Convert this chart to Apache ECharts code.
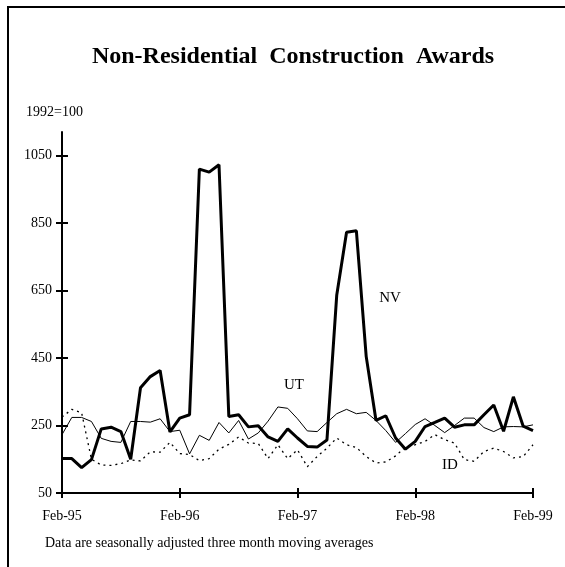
<!DOCTYPE html>
<html><head><meta charset="utf-8">
<script src="https://cdn.jsdelivr.net/npm/echarts@6/dist/echarts.min.js"></script>
<style>html,body{margin:0;padding:0;background:#fff}#c{width:565px;height:567px}</style>
</head><body><div id="c"></div>
<script>
const months = [
  'Feb-95','Mar-95','Apr-95','May-95','Jun-95','Jul-95','Aug-95','Sep-95','Oct-95','Nov-95','Dec-95','Jan-96',
  'Feb-96','Mar-96','Apr-96','May-96','Jun-96','Jul-96','Aug-96','Sep-96','Oct-96','Nov-96','Dec-96','Jan-97',
  'Feb-97','Mar-97','Apr-97','May-97','Jun-97','Jul-97','Aug-97','Sep-97','Oct-97','Nov-97','Dec-97','Jan-98',
  'Feb-98','Mar-98','Apr-98','May-98','Jun-98','Jul-98','Aug-98','Sep-98','Oct-98','Nov-98','Dec-98','Jan-99',
  'Feb-99'
];
const xTickLabels = ['Feb-95','Feb-96','Feb-97','Feb-98','Feb-99'];
const yTickValues = [50, 250, 450, 650, 850, 1050];

const NV = [152,152,125,149,240,245,232,150,362,395,413,231,
            272,282,1010,1001,1023,277,282,246,249,216,203,240,
            213,188,186,207,637,823,827,455,265,279,213,180,
            203,247,259,272,245,252,252,282,311,233,335,248,
            235];
const UT = [223,274,274,262,212,203,200,262,262,260,270,232,
            236,166,221,206,259,228,265,210,228,263,305,301,
            270,234,232,259,285,298,285,289,265,235,200,226,
            253,270,250,229,250,272,272,244,232,246,247,246,
            252];
const ID = [275,298,288,150,133,132,137,148,145,172,171,200,
            167,164,146,152,180,194,216,198,197,152,193,152,
            178,128,158,183,213,193,185,158,139,142,160,186,
            193,203,223,208,198,149,144,173,183,173,154,158,
            193];

const FONT = "'Liberation Serif','Times New Roman',serif";
const chart = echarts.init(document.getElementById('c'), null, {renderer: 'canvas'});
const G = {left: 62, right: 32, top: 132, bottom: 74};
const gridW = 565 - G.left - G.right;
const gridH = 567 - G.top - G.bottom;
const yCommon = {type: 'value', min: 50, max: 1120, interval: 200};
const tickStyle = {color: '#000', width: 2};

chart.setOption({
  animation: false,
  backgroundColor: '#fff',
  grid: {left: G.left, right: G.right, top: G.top, bottom: G.bottom, containLabel: false},
  xAxis: [
    {
      type: 'category', position: 'bottom', data: months, boundaryGap: false,
      axisLine: {show: true, lineStyle: {color: '#000', width: 2}},
      axisTick: {show: true, interval: 11, length: 5, lineStyle: tickStyle},
      axisLabel: {interval: 11, margin: 16, color: '#000', fontFamily: FONT, fontSize: 14,
        formatter: function (v) { return xTickLabels.indexOf(v) >= 0 ? v : ''; }},
      splitLine: {show: false}
    },
    {
      type: 'category', position: 'top', offset: -gridH, data: months, boundaryGap: false,
      axisLine: {show: false},
      axisTick: {show: true, interval: 11, length: 5, lineStyle: tickStyle},
      axisLabel: {show: false},
      splitLine: {show: false}
    }
  ],
  yAxis: [
    Object.assign({}, yCommon, {
      position: 'left',
      axisLine: {show: true, lineStyle: {color: '#000', width: 2}},
      axisTick: {show: true, length: 6, customValues: yTickValues, lineStyle: tickStyle},
      axisLabel: {margin: 10, color: '#000', fontFamily: FONT, fontSize: 14, customValues: yTickValues,
        formatter: function (v) { return String(v); }},
      splitLine: {show: false}
    }),
    Object.assign({}, yCommon, {
      position: 'right', offset: -gridW,
      axisLine: {show: false},
      axisTick: {show: true, length: 6, customValues: yTickValues, lineStyle: tickStyle},
      axisLabel: {show: false},
      splitLine: {show: false}
    })
  ],
  series: [
    {name: 'ID', type: 'line', xAxisIndex: 0, yAxisIndex: 0, data: ID, symbol: 'none',
      lineStyle: {color: '#000', width: 1.3, type: [2, 4]}, z: 2},
    {name: 'UT', type: 'line', xAxisIndex: 0, yAxisIndex: 0, data: UT, symbol: 'none',
      lineStyle: {color: '#000', width: 1}, z: 3},
    {name: 'NV', type: 'line', xAxisIndex: 0, yAxisIndex: 0, data: NV, symbol: 'none',
      lineStyle: {color: '#000', width: 3}, z: 4}
  ],
  graphic: [
    {type: 'rect', shape: {x: 8, y: 7, width: 700, height: 700}, style: {fill: 'none', stroke: '#000', lineWidth: 2}, silent: true},
    {type: 'text', x: 293, y: 57, style: {text: 'Non-Residential  Construction  Awards', font: 'bold 24px ' + FONT, fill: '#000', align: 'center', verticalAlign: 'middle'}},
    {type: 'text', x: 26, y: 112, style: {text: '1992=100', font: '14px ' + FONT, fill: '#000', align: 'left', verticalAlign: 'middle'}},
    {type: 'text', x: 390, y: 298, style: {text: 'NV', font: '15px ' + FONT, fill: '#000', align: 'center', verticalAlign: 'middle'}},
    {type: 'text', x: 294, y: 385, style: {text: 'UT', font: '15px ' + FONT, fill: '#000', align: 'center', verticalAlign: 'middle'}},
    {type: 'text', x: 450, y: 465, style: {text: 'ID', font: '15px ' + FONT, fill: '#000', align: 'center', verticalAlign: 'middle'}},
    {type: 'text', x: 45, y: 543, style: {text: 'Data are seasonally adjusted three month moving averages', font: '14px ' + FONT, fill: '#000', align: 'left', verticalAlign: 'middle'}}
  ]
});
</script>
</body></html>
